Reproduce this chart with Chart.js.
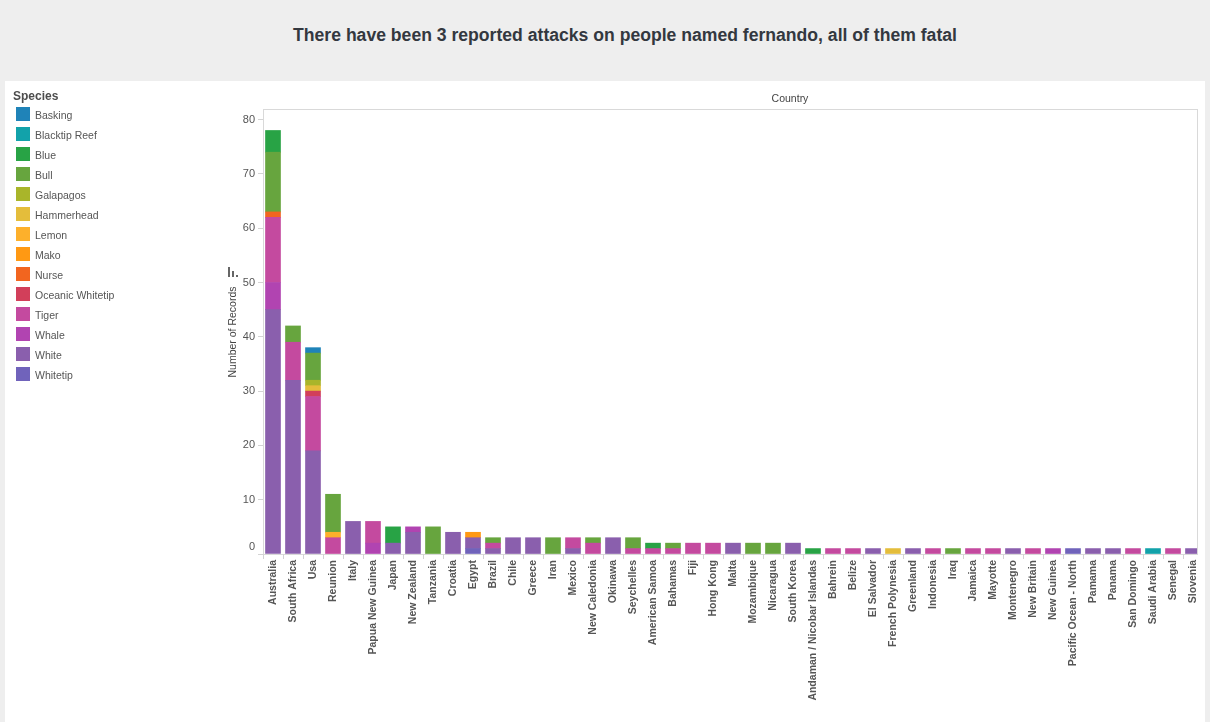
<!DOCTYPE html>
<html lang="en">

<head>
    <meta charset="UTF-8">
    <title>Shark attacks</title>
    <script src="https://cdn.jsdelivr.net/npm/chart.js"></script>
    <style>
        html, body { margin: 0; height: 100%; background: #eeeeee; overflow: hidden; font-family: "Liberation Sans", sans-serif; }
        .titulo { position: absolute; left: 0; top: 25px; width: 1250px; text-align: center; font-size: 17.6px; font-weight: bold; color: #33383f; }
        .cartao { position: absolute; left: 5px; top: 81px; width: 1200px; height: 641px; background: #fff; }
        #grafico { position: absolute; left: 0; top: 0; }
        /* moldura do grafico: a base termina em 1197, antes da ultima marca */
        .moldura { position: absolute; left: 263px; top: 109px; width: 933px; height: 444px; border: 1px solid #d9d9d9; box-sizing: content-box; }
        .topo { position: absolute; left: 690px; width: 200px; top: 92px; text-align: center; font-size: 10.5px; color: #444; }
        .legendaTitulo { position: absolute; left: 13px; top: 89px; font-size: 12px; font-weight: bold; color: #4d4d4d; }
        .item { position: absolute; left: 16px; font-size: 10.5px; color: #555; line-height: 16px; }
        .item span { display: inline-block; width: 14px; height: 14px; margin-right: 5px; vertical-align: top; }
        .icone div { position: absolute; background: #666; width: 2px; }
    </style>
</head>

<body>
    <div class="titulo">There have been 3 reported attacks on people named fernando, all of them fatal</div>
    <div class="cartao"></div>
    <div class="moldura"></div>
    <canvas id="grafico" width="1210" height="722"></canvas>
    <div class="topo">Country</div>
    <div class="legendaTitulo">Species</div>
    <div id="legenda"></div>
    <!-- icone de ordenacao do eixo y -->
    <div class="icone">
        <div style="left:228px; top:267px; height:10px"></div>
        <div style="left:232px; top:271px; height:6px"></div>
        <div style="left:236px; top:275px; height:2px"></div>
    </div>
</body>

</html>
<script>
    const paises = [
        'Australia', 'South Africa', 'Usa', 'Reunion', 'Italy', 'Papua New Guinea', 'Japan', 'New Zealand', 'Tanzania', 'Croatia',
        'Egypt', 'Brazil', 'Chile', 'Greece', 'Iran', 'Mexico', 'New Caledonia', 'Okinawa', 'Seychelles', 'American Samoa',
        'Bahamas', 'Fiji', 'Hong Kong', 'Malta', 'Mozambique', 'Nicaragua', 'South Korea', 'Andaman / Nicobar Islandas', 'Bahrein', 'Belize',
        'El Salvador', 'French Polynesia', 'Greenland', 'Indonesia', 'Iraq', 'Jamaica', 'Mayotte', 'Montenegro', 'New Britain', 'New Guinea',
        'Pacific Ocean - North', 'Pamama', 'Panama', 'San Domingo', 'Saudi Arabia', 'Senegal', 'Slovenia',
    ];

    const especies = [
        'Basking', 'Blacktip Reef', 'Blue', 'Bull', 'Galapagos', 'Hammerhead', 'Lemon',
        'Mako', 'Nurse', 'Oceanic Whitetip', 'Tiger', 'Whale', 'White', 'Whitetip',
    ];

    const cores = [
        '#1f83b8', '#12a2aa', '#28a345', '#67a53e', '#a9b52a', '#e4bd3b', '#fdb02b',
        '#ff9913', '#f2651f', '#d23f5a', '#c44a9f', '#b144b1', '#8a5fad', '#7063bb',
    ];

    // uma linha por 10 paises
    const basking = [
        0, 0, 1, 0, 0, 0, 0, 0, 0, 0,
        0, 0, 0, 0, 0, 0, 0, 0, 0, 0,
        0, 0, 0, 0, 0, 0, 0, 0, 0, 0,
        0, 0, 0, 0, 0, 0, 0, 0, 0, 0,
        0, 0, 0, 0, 0, 0, 0];
    const blacktip = [
        0, 0, 0, 0, 0, 0, 0, 0, 0, 0,
        0, 0, 0, 0, 0, 0, 0, 0, 0, 0,
        0, 0, 0, 0, 0, 0, 0, 0, 0, 0,
        0, 0, 0, 0, 0, 0, 0, 0, 0, 0,
        0, 0, 0, 0, 1, 0, 0];
    const blue = [
        4, 0, 0, 0, 0, 0, 3, 0, 0, 0,
        0, 0, 0, 0, 0, 0, 0, 0, 0, 1,
        0, 0, 0, 0, 0, 0, 0, 1, 0, 0,
        0, 0, 0, 0, 0, 0, 0, 0, 0, 0,
        0, 0, 0, 0, 0, 0, 0];
    const bull = [
        11, 3, 5, 7, 0, 0, 0, 0, 5, 0,
        0, 1, 0, 0, 3, 0, 1, 0, 2, 0,
        1, 0, 0, 0, 2, 2, 0, 0, 0, 0,
        0, 0, 0, 0, 1, 0, 0, 0, 0, 0,
        0, 0, 0, 0, 0, 0, 0];
    const galapagos = [
        0, 0, 1, 0, 0, 0, 0, 0, 0, 0,
        0, 0, 0, 0, 0, 0, 0, 0, 0, 0,
        0, 0, 0, 0, 0, 0, 0, 0, 0, 0,
        0, 0, 0, 0, 0, 0, 0, 0, 0, 0,
        0, 0, 0, 0, 0, 0, 0];
    const hammerhead = [
        0, 0, 1, 0, 0, 0, 0, 0, 0, 0,
        0, 0, 0, 0, 0, 0, 0, 0, 0, 0,
        0, 0, 0, 0, 0, 0, 0, 0, 0, 0,
        0, 1, 0, 0, 0, 0, 0, 0, 0, 0,
        0, 0, 0, 0, 0, 0, 0];
    const lemon = [
        0, 0, 0, 1, 0, 0, 0, 0, 0, 0,
        0, 0, 0, 0, 0, 0, 0, 0, 0, 0,
        0, 0, 0, 0, 0, 0, 0, 0, 0, 0,
        0, 0, 0, 0, 0, 0, 0, 0, 0, 0,
        0, 0, 0, 0, 0, 0, 0];
    const mako = [
        0, 0, 0, 0, 0, 0, 0, 0, 0, 0,
        1, 0, 0, 0, 0, 0, 0, 0, 0, 0,
        0, 0, 0, 0, 0, 0, 0, 0, 0, 0,
        0, 0, 0, 0, 0, 0, 0, 0, 0, 0,
        0, 0, 0, 0, 0, 0, 0];
    const nurse = [
        1, 0, 0, 0, 0, 0, 0, 0, 0, 0,
        0, 0, 0, 0, 0, 0, 0, 0, 0, 0,
        0, 0, 0, 0, 0, 0, 0, 0, 0, 0,
        0, 0, 0, 0, 0, 0, 0, 0, 0, 0,
        0, 0, 0, 0, 0, 0, 0];
    const oceanic = [
        0, 0, 1, 0, 0, 0, 0, 0, 0, 0,
        0, 0, 0, 0, 0, 0, 0, 0, 0, 0,
        0, 0, 0, 0, 0, 0, 0, 0, 0, 0,
        0, 0, 0, 0, 0, 0, 0, 0, 0, 0,
        0, 0, 0, 0, 0, 0, 0];
    const tiger = [
        12, 7, 10, 3, 0, 4, 0, 0, 0, 0,
        0, 1, 0, 0, 0, 2, 2, 0, 1, 1,
        1, 2, 2, 0, 0, 0, 0, 0, 1, 1,
        0, 0, 0, 1, 0, 1, 1, 0, 1, 0,
        0, 0, 0, 1, 0, 1, 0];
    const whale = [
        5, 0, 0, 0, 0, 2, 0, 1, 0, 0,
        0, 0, 0, 0, 0, 0, 0, 0, 0, 0,
        0, 0, 0, 0, 0, 0, 0, 0, 0, 0,
        0, 0, 0, 0, 0, 0, 0, 0, 0, 1,
        0, 0, 0, 0, 0, 0, 0];
    const white = [
        45, 32, 19, 0, 6, 0, 2, 4, 0, 4,
        2, 1, 3, 3, 0, 1, 0, 3, 0, 0,
        0, 0, 0, 2, 0, 0, 2, 0, 0, 0,
        1, 0, 1, 0, 0, 0, 0, 1, 0, 0,
        0, 1, 1, 0, 0, 0, 1];
    const whitetip = [
        0, 0, 0, 0, 0, 0, 0, 0, 0, 0,
        1, 0, 0, 0, 0, 0, 0, 0, 0, 0,
        0, 0, 0, 0, 0, 0, 0, 0, 0, 0,
        0, 0, 0, 0, 0, 0, 0, 0, 0, 0,
        1, 0, 0, 0, 0, 0, 0];

    const valores = [basking, blacktip, blue, bull, galapagos, hammerhead, lemon, mako, nurse, oceanic, tiger, whale, white, whitetip];

    const marcasY = [0, 10, 20, 30, 40, 50, 60, 70, 80];

    // legenda
    const legenda = document.getElementById('legenda');
    especies.forEach(function (nome, i) {
        const item = document.createElement('div');
        item.className = 'item';
        item.style.top = (107 + i * 20) + 'px';
        item.innerHTML = '<span style="background:' + cores[i] + '"></span>' + nome;
        legenda.appendChild(item);
    });

    // a pilha comeca pelo ultimo item da legenda
    // zero vira null para nao desenhar uma linha fina em cima da barra
    const conjuntos = especies.map(function (nome, i) {
        return {
            label: nome,
            data: valores[i].map((v) => (v === 0 ? null : v)),
            backgroundColor: cores[i],
            barThickness: 15,
            clip: { left: 0, top: 0, right: -6, bottom: 0 },
        };
    }).reverse();

    // o rotulo 0 fica um pouco acima da marca
    const subirZero = {
        id: 'subirZero',
        afterUpdate(chart) {
            chart.scales.y.getLabelItems().forEach(function (item) {
                if (item.label === '0') {
                    item.options.translation[1] -= 7;
                }
            });
        },
    };

    const meuGrafico = new Chart(document.getElementById('grafico'), {
        type: 'bar',
        data: { labels: paises, datasets: conjuntos },
        plugins: [subirZero],
        options: {
            responsive: false,
            animation: false,
            layout: { padding: { left: 226, top: 110, right: 7, bottom: 0 } },
            plugins: { legend: { display: false }, title: { display: false }, tooltip: { enabled: false } },
            scales: {
                x: {
                    stacked: true,
                    afterFit(scale) { scale.height = 168; },
                    border: { display: false },
                    grid: {
                        drawOnChartArea: false,
                        tickLength: 5,
                        // a marca extra depois do ultimo pais fica fora da moldura
                        color: (ctx) => (ctx.tick ? '#d4d4d4' : 'transparent'),
                    },
                    ticks: {
                        autoSkip: false,
                        minRotation: 90,
                        maxRotation: 90,
                        padding: 1,
                        color: '#555',
                        font: { family: 'Liberation Sans', size: 10.5, weight: 'bold' },
                    },
                },
                y: {
                    stacked: true,
                    min: 0,
                    max: 81.77,
                    afterFit(scale) { scale.width = 37; },
                    afterBuildTicks(scale) { scale.ticks = marcasY.map((v) => ({ value: v })); },
                    border: { display: false },
                    grid: { drawOnChartArea: false, tickLength: 5, color: '#d4d4d4' },
                    ticks: {
                        includeBounds: false,
                        padding: 3,
                        color: '#555',
                        font: { family: 'Liberation Sans', size: 11 },
                    },
                    title: {
                        display: true,
                        text: 'Number of Records',
                        color: '#444',
                        padding: { top: 1, bottom: 0 },
                        font: { family: 'Liberation Sans', size: 10.5 },
                    },
                },
            },
        },
    });
</script>
